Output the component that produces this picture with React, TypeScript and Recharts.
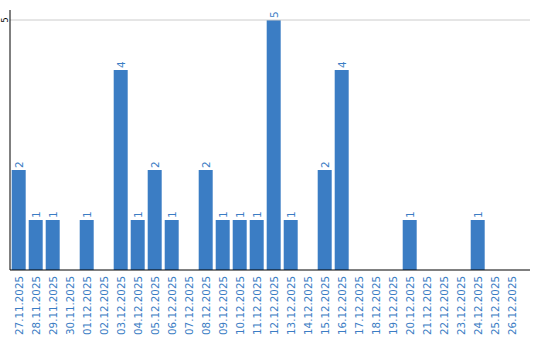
import { Bar, BarChart, LabelList, ReferenceLine, XAxis, YAxis } from "recharts";

const days = [
  "27.11.2025", "28.11.2025", "29.11.2025", "30.11.2025", "01.12.2025", "02.12.2025",
  "03.12.2025", "04.12.2025", "05.12.2025", "06.12.2025", "07.12.2025", "08.12.2025",
  "09.12.2025", "10.12.2025", "11.12.2025", "12.12.2025", "13.12.2025", "14.12.2025",
  "15.12.2025", "16.12.2025", "17.12.2025", "18.12.2025", "19.12.2025", "20.12.2025",
  "21.12.2025", "22.12.2025", "23.12.2025", "24.12.2025", "25.12.2025", "26.12.2025",
];
const counts = [2, 1, 1, 0, 1, 0, 4, 1, 2, 1, 0, 2, 1, 1, 1, 5, 1, 0, 2, 4, 0, 0, 0, 1, 0, 0, 0, 1, 0, 0];
const yTicks = [5];

const blue = "#3b7dc4";
const font = "DejaVu Sans, sans-serif";

const data = days.map((day, i) => ({ day, count: counts[i] }));

function XTick({ x, payload }: any) {
  const y = 276;
  return (
    <text
      x={x}
      y={y}
      transform={`rotate(-90 ${x} ${y})`}
      dy={4}
      textAnchor="end"
      fill={blue}
      fontSize={10.3}
      fontFamily={font}
    >
      {payload.value}
    </text>
  );
}

function YTick({ y, payload }: any) {
  return (
    <text
      x={5}
      y={y}
      transform={`rotate(-90 5 ${y})`}
      textAnchor="middle"
      dy={3}
      fill="#000"
      fontSize={8}
      fontFamily={font}
    >
      {payload.value}
    </text>
  );
}

function ValueLabel({ x, y, width, value }: any) {
  if (!value) return null;
  const cx = x + width / 2;
  const ty = y - 2;
  return (
    <text
      x={cx}
      y={ty}
      transform={`rotate(-90 ${cx} ${ty})`}
      dy={4}
      textAnchor="start"
      fill={blue}
      fontSize={10.5}
      fontFamily={font}
    >
      {value}
    </text>
  );
}

export default function App() {
  return (
    <div style={{ position: "absolute", left: 0, top: 0, width: 540, height: 340, background: "#fff" }}>
      <BarChart
        width={540}
        height={340}
        data={data}
        margin={{ top: 10, right: 10, left: 0, bottom: 0 }}
        barCategoryGap="10%"
      >
        <XAxis
          dataKey="day"
          interval={0}
          height={70}
          padding={{ left: 0, right: 10 }}
          tick={<XTick />}
          tickLine={false}
          axisLine={{ stroke: "#000" }}
        />
        <YAxis
          width={10}
          domain={[0, 5.2]}
          ticks={yTicks}
          tick={<YTick />}
          tickLine={false}
          axisLine={{ stroke: "#000" }}
        />
        <ReferenceLine y={5} stroke="#cccccc" />
        <Bar dataKey="count" fill={blue} isAnimationActive={false}>
          <LabelList dataKey="count" content={<ValueLabel />} />
        </Bar>
      </BarChart>
    </div>
  );
}
